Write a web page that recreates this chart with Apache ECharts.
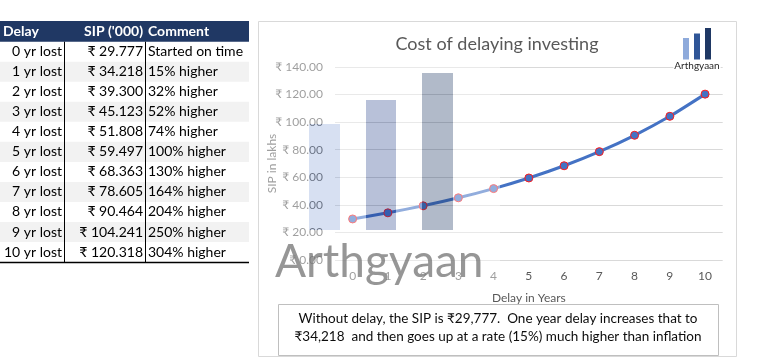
<!DOCTYPE html>
<html><head><meta charset="utf-8">
<script src="https://cdn.jsdelivr.net/npm/echarts@6/dist/echarts.min.js"></script>
<style>html,body{margin:0;padding:0;background:#fff}#c{width:770px;height:363px}</style>
</head><body><div id="c"></div>
<script>
// ---- data ----
const years = ['0','1','2','3','4','5','6','7','8','9','10'];
const delayLabels = ['0 yr lost','1 yr lost','2 yr lost','3 yr lost','4 yr lost','5 yr lost','6 yr lost','7 yr lost','8 yr lost','9 yr lost','10 yr lost'];
const sipValues = [29.777, 34.218, 39.300, 45.123, 51.808, 59.497, 68.363, 78.605, 90.464, 104.241, 120.318];
const comments = ['Started on time','15% higher','32% higher','52% higher','74% higher','100% higher','130% higher','164% higher','204% higher','250% higher','304% higher'];
const tableHeaders = ['Delay', "SIP ('000)", 'Comment'];
const chartTitle = 'Cost of delaying investing';
const noteLines = ['Without delay, the SIP is \u20b929,777.  One year delay increases that to',
                   '\u20b934,218  and then goes up at a rate (15%) much higher than inflation'];

const FONT = 'Lato, "Noto Sans", "DejaVu Sans", sans-serif';
const chart = echarts.init(document.getElementById('c'), null, {renderer:'canvas'});

const g = [];
// ---- table ----
const tX = 0, tW = 249, hdrY = 21, hdrH = 20.7, rowH = 20.03;
g.push({type:'rect', shape:{x:tX,y:hdrY,width:tW,height:hdrH}, style:{fill:'#203864'}, silent:true});
g.push({type:'text', style:{text:tableHeaders[0], x:3, y:hdrY+hdrH/2, align:'left', verticalAlign:'middle', fill:'#fff', font:'bold 14px '+FONT}});
g.push({type:'text', style:{text:tableHeaders[1], x:143, y:hdrY+hdrH/2, align:'right', verticalAlign:'middle', fill:'#fff', font:'bold 14px '+FONT}});
g.push({type:'text', style:{text:tableHeaders[2], x:148, y:hdrY+hdrH/2, align:'left', verticalAlign:'middle', fill:'#fff', font:'bold 14px '+FONT}});
const row0 = hdrY + hdrH;
delayLabels.forEach((d,i)=>{
  const y = row0 + i*rowH;
  if (i % 2 === 1) g.push({type:'rect', shape:{x:tX,y:y,width:tW,height:rowH}, style:{fill:'#f2f2f2'}, silent:true});
  const cy = y + rowH/2;
  g.push({type:'text', style:{text:d, x:62, y:cy, align:'right', verticalAlign:'middle', fill:'#000', font:'14px '+FONT}});
  g.push({type:'text', style:{text:'\u20b9 ' + sipValues[i].toFixed(3), x:143, y:cy, align:'right', verticalAlign:'middle', fill:'#000', font:'14px '+FONT}});
  g.push({type:'text', style:{text:comments[i], x:148, y:cy, align:'left', verticalAlign:'middle', fill:'#000', font:'14px '+FONT}});
});
const tBottom = row0 + delayLabels.length*rowH;
g.push({type:'line', shape:{x1:64.5,y1:row0,x2:64.5,y2:tBottom}, style:{stroke:'#000',lineWidth:1}});
g.push({type:'line', shape:{x1:145.5,y1:row0,x2:145.5,y2:tBottom}, style:{stroke:'#000',lineWidth:1}});
g.push({type:'line', shape:{x1:0,y1:tBottom+0.5,x2:tW,y2:tBottom+0.5}, style:{stroke:'#000',lineWidth:1.5}});

// ---- chart frame ----
g.push({type:'rect', z:-10, shape:{x:258.5,y:21.5,width:478,height:335}, style:{fill:'none',stroke:'#d9d9d9',lineWidth:1}});
g.push({type:'text', style:{text:chartTitle, x:497, y:44, align:'center', verticalAlign:'middle', fill:'#595959', font:'18px '+FONT}});

// ---- logo ----
[[683,38,'#8eaadb'],[694,33.5,'#2f5597'],[705,28,'#1f3864']].forEach(b=>{
  g.push({type:'rect', z:50, shape:{x:b[0],y:b[1],width:6,height:59.5-b[1]}, style:{fill:b[2]}});
});
g.push({type:'text', z:50, style:{text:'Arthgyaan', x:697, y:66, align:'center', verticalAlign:'middle', fill:'#262626', font:'10px '+FONT, backgroundColor:'#fff', padding:[0,1]}});

// ---- watermark overlay ----
const W = 'rgba(255,255,255,0.42)';
[[262,62,238,11],[262,230,238,55],[262,73,47,157],[309,73,31,51],[340,73,26,157],[366,73,30,27],[396,73,26,157],[453,73,47,157]]
 .forEach(r=>g.push({type:'rect', z:100, shape:{x:r[0],y:r[1],width:r[2],height:r[3]}, style:{fill:W}}));
[[309,124,31,'rgba(143,170,220,0.36)'],[366,100,30,'rgba(20,50,130,0.30)'],[422,73,31,'rgba(31,56,100,0.35)']]
 .forEach(b=>g.push({type:'rect', z:100, shape:{x:b[0],y:b[1],width:b[2],height:230-b[1]}, style:{fill:b[3]}}));
g.push({type:'text', z:101, style:{text:'Arthgyaan', x:275, y:262, align:'left', verticalAlign:'middle', fill:'rgba(115,115,115,0.75)', font:'46px '+FONT}});

// ---- note box ----
g.push({type:'rect', shape:{x:278.5,y:304.5,width:440,height:51}, style:{fill:'#fff',stroke:'#bfbfbf',lineWidth:1}});
g.push({type:'text', style:{text:noteLines[0], x:498, y:319, align:'center', verticalAlign:'middle', fill:'#0d0d0d', font:'13.5px '+FONT}});
g.push({type:'text', style:{text:noteLines[1], x:498, y:337, align:'center', verticalAlign:'middle', fill:'#0d0d0d', font:'13.5px '+FONT}});

chart.setOption({
  animation:false,
  backgroundColor:'#fff',
  grid:{left:335, right:47.3, top:67, bottom:103, containLabel:false},
  xAxis:{type:'category', data:years, boundaryGap:true,
    name:'Delay in Years', nameLocation:'middle', nameGap:32, nameMoveOverlap:false,
    nameTextStyle:{color:'#595959', fontSize:12, fontFamily:FONT},
    axisLine:{show:false}, axisTick:{show:false},
    axisLabel:{color:'#595959', fontSize:12, fontFamily:FONT, margin:10}},
  yAxis:{type:'value', min:0, max:140, interval:20,
    name:'SIP in lakhs', nameLocation:'middle', nameGap:57, nameRotate:90, nameMoveOverlap:false,
    nameTextStyle:{color:'#595959', fontSize:12, fontFamily:FONT},
    axisLine:{show:false}, axisTick:{show:false},
    splitLine:{lineStyle:{color:'#d9d9d9', width:1}},
    axisLabel:{color:'#595959', fontSize:12, fontFamily:FONT, margin:12,
      formatter:v=>'\u20b9 ' + v.toFixed(2)}},
  series:[{type:'line', data:sipValues, smooth:0.2, symbol:'circle', symbolSize:8,
    lineStyle:{color:'#4472c4', width:3},
    itemStyle:{color:'#4472c4', borderColor:'#ff1a1a', borderWidth:1}, z:5}],
  graphic:{elements:g}
});
</script></body></html>
